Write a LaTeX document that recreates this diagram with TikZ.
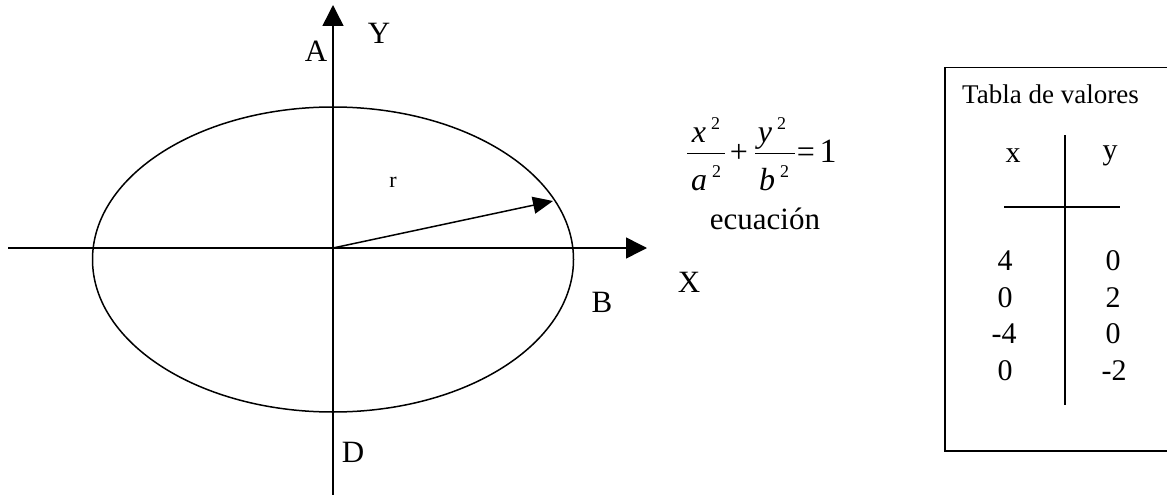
\documentclass[tikz,border=0pt]{standalone}
\usepackage{fontspec}
\setmainfont{Liberation Serif}
\usetikzlibrary{arrows.meta}
\newcommand{\supt}{\hspace{5pt}\raisebox{13pt}{\fontsize{18}{20}\selectfont 2}}
\tikzset{
  axis/.style={line width=1.5pt,-{Triangle[length=21pt,width=21pt]}},
  radarrow/.style={line width=1.5pt,-{Triangle[length=20pt,width=17pt]}},
  lbl/.style={inner sep=0pt,font=\fontsize{31}{36}\selectfont},
  tbl/.style={inner sep=0pt,font=\fontsize{30}{34}\selectfont},
  eqt/.style={inner sep=0pt,anchor=base,font=\fontsize{32}{36}\selectfont},
  thin/.style={line width=1.5pt}
}
\begin{document}
\begin{tikzpicture}[x=1pt,y=-1pt]
\useasboundingbox (0,0) rectangle (1167,495);
\clip (0,0) rectangle (1167,495);
% axes
\coordinate (O) at (333,248);
\coordinate (ybot) at (333,495);
\coordinate (ytop) at (333,5);
\coordinate (xleft) at (8,248);
\coordinate (xright) at (647,248);
\draw[axis] (ybot) -- (ytop);
\draw[axis] (xleft) -- (xright);
% ellipse
\draw[thin] (333,259.5) ellipse [x radius=240.5, y radius=152.5];
% radius
\coordinate (rtip) at (553,201);
\draw[radarrow] (O) -- (rtip);
% labels
\node[lbl] (A) at (316,51) {A};
\node[lbl] (Y) at (379,33) {Y};
\node[lbl] (X) at (689,282) {X};
\node[lbl] (B) at (602,302) {B};
\node[lbl] (D) at (353,452) {D};
\node[inner sep=0pt,font=\fontsize{22}{26}\selectfont] (r) at (393,182) {r};
% equation
\coordinate (b1l) at (687,153.5);
\coordinate (b1r) at (725,153.5);
\coordinate (b2l) at (755,153.5);
\coordinate (b2r) at (795,153.5);
\draw[line width=1.4pt] (b1l) -- (b1r);
\draw[line width=1.4pt] (b2l) -- (b2r);
\node[eqt] (n1) at (706,142) {\textit{x}\supt};
\node[eqt] (d1) at (706,190) {\textit{a}\supt};
\node[eqt] (n2) at (772,142) {\textit{y}\supt};
\node[eqt] (d2) at (774,190) {\textit{b}\supt};
\node[eqt] (plus) at (739,162) {+};
\node[eqt] (equal) at (806,162) {=};
\node[eqt,font=\fontsize{34}{38}\selectfont] (one) at (828,162) {1};
\node[lbl] (ecu) at (765,219) {ecuación};
% table
\node[draw,thin,minimum width=240pt,minimum height=383pt,anchor=north west,inner sep=0pt] (box) at (944,67) {};
\node[inner sep=0pt,font=\fontsize{27}{30}\selectfont,anchor=west] (title) at (962,94.5) {Tabla de valores};
\coordinate (vtop) at (1065,135);
\coordinate (vbot) at (1065,405);
\coordinate (hl) at (1004,207);
\coordinate (hr) at (1120,207);
\draw[thin] (vtop) -- (vbot);
\draw[thin] (hl) -- (hr);
\node[tbl] (hx) at (1013,156) {x};
\node[tbl] (hy) at (1110,156) {y};
\node[tbl] (x1) at (1005,261) {4};
\node[tbl] (y1) at (1113,261) {0};
\node[tbl] (x2) at (1005,298) {0};
\node[tbl] (y2) at (1113,298) {2};
\node[tbl] (x3) at (1004,334) {-4};
\node[tbl] (y3) at (1113,334) {0};
\node[tbl] (x4) at (1005,371) {0};
\node[tbl] (y4) at (1114,371) {-2};
\end{tikzpicture}
\end{document}
